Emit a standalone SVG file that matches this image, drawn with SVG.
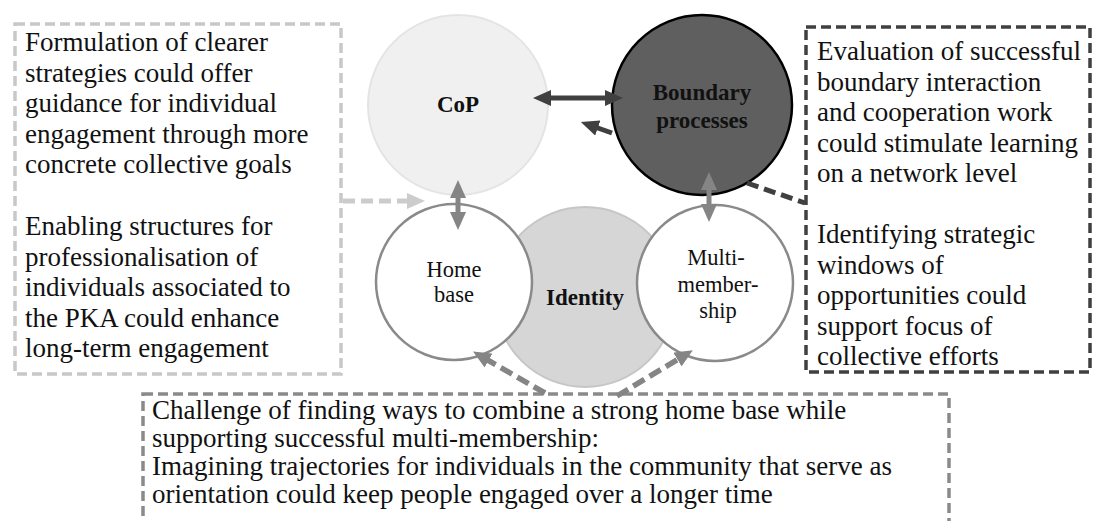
<svg xmlns="http://www.w3.org/2000/svg" width="1095" height="521" viewBox="0 0 1095 521">
<style>
.t{font-family:"Liberation Serif","Times New Roman",serif;font-size:27px;fill:#111}
.c{font-family:"Liberation Serif","Times New Roman",serif;font-size:22.5px;fill:#111;text-anchor:middle}
.b{font-family:"Liberation Serif","Times New Roman",serif;font-size:23px;font-weight:bold;fill:#111;text-anchor:middle}
.box{fill:none;stroke-width:3.5;stroke-dasharray:10 5}
</style>
<defs>
<marker id="ahDark" viewBox="0 0 18 16" refX="3" refY="8" markerWidth="18" markerHeight="16" markerUnits="userSpaceOnUse" orient="auto-start-reverse"><path d="M0,0 L18,8 L0,16 z" fill="#404040"/></marker>
<marker id="ahGray" viewBox="0 0 18 16" refX="3" refY="8" markerWidth="18" markerHeight="16" markerUnits="userSpaceOnUse" orient="auto-start-reverse"><path d="M0,0 L18,8 L0,16 z" fill="#858585"/></marker>
<marker id="ahLight" viewBox="0 0 18 16" refX="3" refY="8" markerWidth="18" markerHeight="16" markerUnits="userSpaceOnUse" orient="auto-start-reverse"><path d="M0,0 L18,8 L0,16 z" fill="#cccccc"/></marker>
</defs>
<rect width="1095" height="521" fill="#ffffff"/>

<g id="box-left">
<rect class="box" x="15" y="24" width="326" height="350" stroke="#c8c8c8"/>
<text class="t"><tspan x="25" y="51">Formulation of clearer</tspan><tspan x="25" y="81.5">strategies could offer</tspan><tspan x="25" y="112">guidance for individual</tspan><tspan x="25" y="142.5">engagement through more</tspan><tspan x="25" y="173">concrete collective goals</tspan><tspan x="25" y="235">Enabling structures for</tspan><tspan x="25" y="265.5">professionalisation of</tspan><tspan x="25" y="296">individuals associated to</tspan><tspan x="25" y="326.5">the PKA could enhance</tspan><tspan x="25" y="357">long-term engagement</tspan></text>
</g>

<g id="box-right">
<rect class="box" x="806" y="27" width="284" height="345" stroke="#404040"/>
<text class="t"><tspan x="817" y="60">Evaluation of successful</tspan><tspan x="817" y="90.5">boundary interaction</tspan><tspan x="817" y="121">and cooperation work</tspan><tspan x="817" y="151.5">could stimulate learning</tspan><tspan x="817" y="182">on a network level</tspan><tspan x="817" y="243">Identifying strategic</tspan><tspan x="817" y="273.5">windows of</tspan><tspan x="817" y="304">opportunities could</tspan><tspan x="817" y="334.5">support focus of</tspan><tspan x="817" y="365">collective efforts</tspan></text>
</g>

<g id="box-bottom">
<rect class="box" x="143" y="394" width="806" height="140" stroke="#8a8a8a"/>
<text class="t"><tspan x="152" y="419">Challenge of finding ways to combine a strong home base while</tspan><tspan x="152" y="447">supporting successful multi-membership:</tspan><tspan x="152" y="475">Imagining trajectories for individuals in the community that serve as</tspan><tspan x="152" y="503">orientation could keep people engaged over a longer time</tspan></text>
</g>

<g id="node-cop">
<circle cx="458" cy="105" r="90" fill="#f0f0f0" stroke="#e4e4e4" stroke-width="2"/>
<text class="b" x="458" y="112">CoP</text>
</g>

<g id="node-boundary">
<circle cx="702" cy="105" r="90" fill="#5f5f5f" stroke="#000000" stroke-width="2.5"/>
<text class="b" x="702" y="100">Boundary</text>
<text class="b" x="702" y="128">processes</text>
</g>

<g id="node-identity">
<circle cx="585" cy="297" r="90" fill="#d6d6d6" stroke="#c6c6c6" stroke-width="2"/>
<text class="b" x="585" y="305">Identity</text>
</g>

<g id="node-home">
<circle cx="454" cy="282" r="78" fill="#ffffff" stroke="#8a8a8a" stroke-width="2.5"/>
<text class="c" x="454" y="277">Home</text>
<text class="c" x="454" y="302">base</text>
</g>

<g id="node-multi">
<circle cx="715" cy="283" r="78" fill="#ffffff" stroke="#8a8a8a" stroke-width="2.5"/>
<text class="c" x="716" y="265">Multi-</text>
<text class="c" x="718" y="292">member-</text>
<text class="c" x="718" y="318">ship</text>
</g>

<g id="connectors">
<line x1="548" y1="98" x2="608" y2="98" stroke="#404040" stroke-width="5" marker-start="url(#ahDark)" marker-end="url(#ahDark)"/>
<line x1="612" y1="133" x2="595" y2="127" stroke="#404040" stroke-width="5" marker-end="url(#ahDark)"/>
<line x1="458" y1="195" x2="458" y2="215" stroke="#858585" stroke-width="5" marker-start="url(#ahGray)" marker-end="url(#ahGray)"/>
<line x1="709" y1="187" x2="709" y2="207" stroke="#858585" stroke-width="5" marker-start="url(#ahGray)" marker-end="url(#ahGray)"/>
<line x1="343" y1="201" x2="410" y2="201" stroke="#cccccc" stroke-width="5" stroke-dasharray="12 6" marker-end="url(#ahLight)"/>
<line x1="747" y1="183" x2="805" y2="203" stroke="#404040" stroke-width="5" stroke-dasharray="12 6"/>
<line x1="545" y1="393" x2="486" y2="359" stroke="#858585" stroke-width="5.5" stroke-dasharray="13 6" marker-end="url(#ahGray)"/>
<line x1="617" y1="396" x2="680" y2="358" stroke="#858585" stroke-width="5.5" stroke-dasharray="13 6" marker-end="url(#ahGray)"/>
</g>
</svg>
